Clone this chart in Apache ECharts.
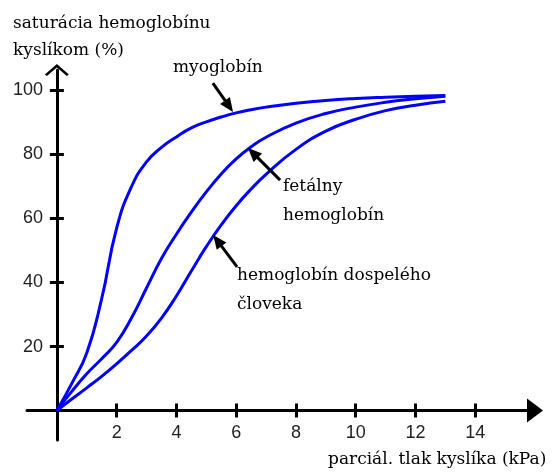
<!DOCTYPE html>
<html>
<head>
<meta charset="utf-8">
<script src="https://cdn.jsdelivr.net/npm/echarts@6/dist/echarts.min.js"></script>
<style>
html, body { margin: 0; padding: 0; background: #fff; }
#chart { width: 558px; height: 475px; }
</style>
</head>
<body>
<div id="chart"></div>
<script>
// parciálny tlak kyslíka (kPa)
var pressure  = [0, 0.5, 1, 1.5, 2, 2.5, 3, 3.5, 4, 4.5, 5, 5.5, 6, 6.5, 7, 8, 9, 10, 11, 12, 13];
// saturácia (%)
var myoglobin = [0, 8.5, 18, 35, 57, 70, 77.7, 82.2, 85.5, 88.3, 90.2, 91.7, 93, 94, 94.8, 96, 96.9, 97.5, 97.9, 98.2, 98.4];
var fetal     = [0, 6, 11.5, 16.2, 21.3, 29, 38.3, 47.5, 55.1, 62, 68.3, 73.9, 78.6, 82.4, 85.4, 89.8, 92.8, 94.8, 96.3, 97.4, 98.2];
var adult     = [0, 3.6, 7.1, 10.7, 14.6, 18.8, 23.3, 28.9, 35.8, 43.6, 51.2, 58, 64, 69.2, 73.8, 81.6, 87.3, 91, 93.7, 95.4, 96.6];

var xTicks = [2, 4, 6, 8, 10, 12, 14];
var yTicks = [20, 40, 60, 80, 100];

// popisky so šípkami: [chvost, hrot]
var pointers = [
    [[5.22, 102.3], [5.76, 95.1]],
    [[7.47, 72.0], [6.56, 80.5]],
    [[6.03, 44.9], [5.37, 53.1]]
];

var chart = echarts.init(document.getElementById('chart'));

var serif = 'DejaVu Serif';
var tickStyle = { color: '#000', width: 3 };
var numLabel = { fontSize: 18, fontFamily: 'Liberation Sans', color: '#222' };

function pairs(ys) {
    return pressure.map(function (p, i) { return [p, ys[i]]; });
}

function curve(name, ys, extra) {
    var s = {
        name: name,
        type: 'line',
        xAxisIndex: 0,
        yAxisIndex: 0,
        data: pairs(ys),
        smooth: 0.5,
        showSymbol: false,
        lineStyle: { color: '#0000ff', width: 3 },
        emphasis: { disabled: true },
        silent: true
    };
    return Object.assign(s, extra || {});
}

function text(str, x, y) {
    return {
        type: 'text',
        x: x,
        y: y,
        style: { text: str, font: '17px "' + serif + '"', fill: '#000', verticalAlign: 'middle' }
    };
}

var option = {
    animation: false,
    grid: { left: 27, right: 23, top: 70, bottom: 35, outerBoundsMode: 'none' },
    xAxis: [{
        type: 'value', min: -1, max: 16, position: 'bottom',
        axisLine: { onZero: true, lineStyle: { color: '#000', width: 3 },
            symbol: ['none', 'triangle'], symbolSize: [24, 16] },
        axisTick: { customValues: xTicks, length: 7, lineStyle: tickStyle },
        axisLabel: Object.assign({ customValues: xTicks, margin: -15.5 }, numLabel),
        splitLine: { show: false }
    }, {
        type: 'value', min: -1, max: 16, position: 'top',
        axisLine: { onZero: true, lineStyle: { opacity: 0 } },
        axisTick: { customValues: xTicks, length: 7, lineStyle: tickStyle },
        axisLabel: { show: false },
        splitLine: { show: false }
    }],
    yAxis: [{
        type: 'value', min: -9.2, max: 106.4, position: 'left',
        axisLine: { onZero: true, lineStyle: { color: '#000', width: 3 },
            symbol: ['none', 'path://M0,10.5 L12,0 L24,10.5 L22,12 L12,3.5 L2,12 Z'], symbolSize: [24, 12] },
        axisTick: { customValues: yTicks, length: 7, lineStyle: tickStyle },
        axisLabel: Object.assign({ customValues: yTicks, margin: -16 }, numLabel),
        splitLine: { show: false }
    }, {
        type: 'value', min: -9.2, max: 106.4, position: 'right',
        axisLine: { onZero: true, lineStyle: { opacity: 0 } },
        axisTick: { customValues: yTicks, length: 7, lineStyle: tickStyle },
        axisLabel: { show: false },
        splitLine: { show: false }
    }],
    series: [
        curve('myoglobín', myoglobin, {
            markLine: {
                silent: true,
                symbol: ['none', 'triangle'],
                symbolSize: [12, 14],
                lineStyle: { color: '#000', width: 3, type: 'solid' },
                label: { show: false },
                emphasis: { disabled: true },
                data: pointers.map(function (p) {
                    return [{ coord: p[0] }, { coord: p[1] }];
                })
            }
        }),
        curve('fetálny hemoglobín', fetal),
        curve('hemoglobín dospelého človeka', adult)
    ],
    graphic: [
        text('saturácia hemoglobínu', 13, 24),
        text('kyslíkom (%)', 13, 50.5),
        text('myoglobín', 173, 68),
        text('fetálny', 283, 187),
        text('hemoglobín', 283, 216),
        text('hemoglobín dospelého', 237, 276),
        text('človeka', 237, 305),
        text('parciál. tlak kyslíka (kPa)', 328, 460)
    ]
};

chart.setOption(option);
</script>
</body>
</html>
